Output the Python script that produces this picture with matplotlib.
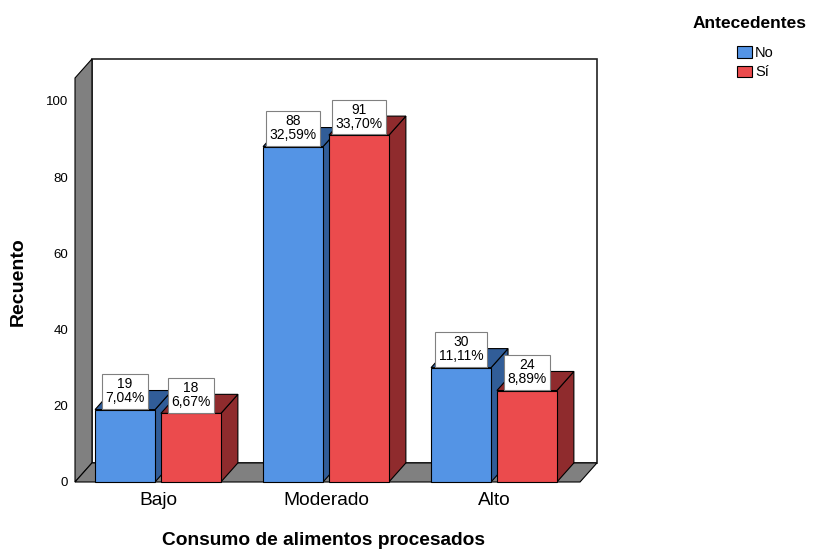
import matplotlib
matplotlib.use("Agg")
import matplotlib.pyplot as plt
from matplotlib.patches import Polygon, Rectangle

plt.rcParams["font.family"] = ["Liberation Sans", "DejaVu Sans"]

# Datos: recuento por nivel de consumo y antecedentes
categorias = ["Bajo", "Moderado", "Alto"]
grupos = ["No", "Sí"]
recuento_no = [19, 88, 30]
recuento_si = [18, 91, 24]
total = sum(recuento_no) + sum(recuento_si)

# Colores estilo SPSS: cara frontal y cara lateral/superior
color_frente = {"No": "#5494E5", "Sí": "#EB4B4D"}
color_lado = {"No": "#315D98", "Sí": "#8F2B2D"}
color_pared = "#808080"

W, H = 820, 549
fig = plt.figure(figsize=(W / 100, H / 100), dpi=100)
# plano frontal del gráfico en píxeles: x 75..580, y 482..78
ax = fig.add_axes([75 / W, (H - 482) / H, 505 / W, 404 / H])
x0, x1 = -0.494, 2.512
ymax = 106
ax.set_xlim(x0, x1)
ax.set_ylim(0, ymax)
for s in ax.spines.values():
    s.set_visible(False)

# profundidad del efecto 3D (en unidades de datos)
DX, DY = 0.101, 5.0
ancho = 0.357
desplaz = {"No": -0.196, "Sí": 0.196}

# pared del fondo, pared izquierda y suelo
ax.add_patch(Rectangle((x0 + DX, DY), x1 - x0, ymax, fc="white", ec="#222222",
                       lw=1.2, clip_on=False, zorder=1))
ax.add_patch(Polygon([(x0, 0), (x0 + DX, DY), (x0 + DX, ymax + DY), (x0, ymax)],
                     closed=True, fc=color_pared, ec="black", lw=0.8,
                     clip_on=False, zorder=2))
ax.add_patch(Polygon([(x0, 0), (x1, 0), (x1 + DX, DY), (x0 + DX, DY)],
                     closed=True, fc=color_pared, ec="black", lw=0.8,
                     clip_on=False, zorder=2))


def barra3d(xc, h, frente, lado, z):
    xl, xr = xc - ancho / 2, xc + ancho / 2
    ax.add_patch(Polygon([(xr, 0), (xr + DX, DY), (xr + DX, h + DY), (xr, h)],
                         closed=True, fc=lado, ec="black", lw=0.8,
                         clip_on=False, zorder=z))
    ax.add_patch(Polygon([(xl, h), (xr, h), (xr + DX, h + DY), (xl + DX, h + DY)],
                         closed=True, fc=lado, ec="black", lw=0.8,
                         clip_on=False, zorder=z))
    ax.add_patch(Rectangle((xl, 0), ancho, h, fc=frente, ec="black", lw=0.8,
                           clip_on=False, zorder=z))


z = 3
for i, cat in enumerate(categorias):
    for g, valores in zip(grupos, [recuento_no, recuento_si]):
        barra3d(i + desplaz[g], valores[i], color_frente[g], color_lado[g], z)
        z += 1

# etiquetas con recuento y porcentaje sobre cada barra
for i, cat in enumerate(categorias):
    for g, valores in zip(grupos, [recuento_no, recuento_si]):
        v = valores[i]
        pct = f"{100 * v / total:.2f}%".replace(".", ",")
        ax.annotate(f"{v}\n{pct}", xy=(i + desplaz[g], v), xytext=(0, 3),
                    textcoords="offset points", ha="center", va="bottom",
                    fontsize=10, linespacing=1.0, zorder=20,
                    bbox=dict(boxstyle="square,pad=0.25", fc="white",
                              ec="#808080", lw=0.8))

ax.set_yticks(range(0, 101, 20))
ax.tick_params(axis="y", length=0, pad=5, labelsize=9.5)
ax.set_xticks(range(len(categorias)))
ax.set_xticklabels(categorias)
ax.tick_params(axis="x", length=0, pad=7, labelsize=13.8)

fig.text(324 / W, 1 - 545 / H, "Consumo de alimentos procesados",
         ha="center", va="baseline", fontsize=13.8, fontweight="bold")
fig.text(18 / W, 1 - 282 / H, "Recuento", ha="center", va="center",
         rotation=90, fontsize=14, fontweight="bold")

# leyenda
fig.text(749.5 / W, 1 - 28 / H, "Antecedentes", ha="center", va="baseline",
         fontsize=12.5, fontweight="bold")
for k, g in enumerate(grupos):
    ytop = 46 + 19.5 * k
    fig.patches.append(Rectangle((737 / W, 1 - (ytop + 11.5) / H), 15 / W, 11.5 / H,
                                 fc=color_frente[g], ec="black", lw=0.8,
                                 transform=fig.transFigure, figure=fig))
    fig.text(755 / W, 1 - (ytop + 11) / H, g, ha="left", va="baseline", fontsize=10.5)

fig.savefig("out.png", dpi=100)
